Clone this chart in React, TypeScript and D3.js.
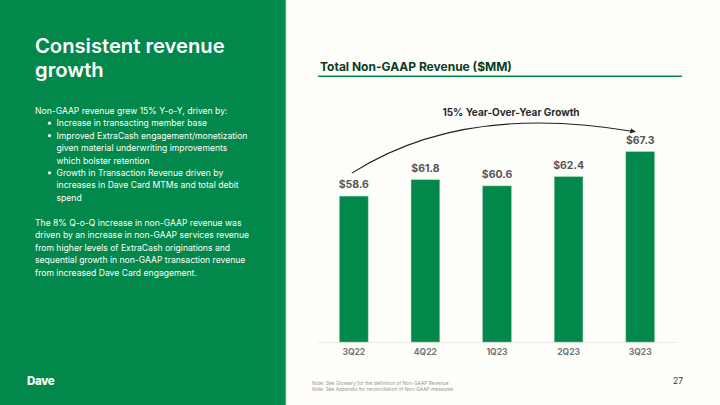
import React from "react";
import * as d3 from "d3";

const quarters = ["3Q22", "4Q22", "1Q23", "2Q23", "3Q23"];
const revenue = [58.6, 61.8, 60.6, 62.4, 67.3];
const valueLabels = ["$58.6", "$61.8", "$60.6", "$62.4", "$67.3"];

const chartTitle = "Total Non-GAAP Revenue ($MM)";
const growthLabel = "15% Year-Over-Year Growth";
const leftTitle = ["Consistent revenue", "growth"];
const introLine = "Non-GAAP revenue grew 15% Y-o-Y, driven by:";
const bullets = [
  ["Increase in transacting member base"],
  ["Improved ExtraCash engagement/monetization", "given material underwriting improvements", "which bolster retention"],
  ["Growth in Transaction Revenue driven by", "increases in Dave Card MTMs and total debit", "spend"],
];
const paragraph = [
  "The 8% Q-o-Q increase in non-GAAP revenue was",
  "driven by an increase in non-GAAP services revenue",
  "from higher levels of ExtraCash originations and",
  "sequential growth in non-GAAP transaction revenue",
  "from increased Dave Card engagement.",
];
const notes = [
  "Note: See Glossary for the definition of Non-GAAP Revenue",
  "Note: See Appendix for reconciliation of Non-GAAP measures",
];

const GREEN = "#02884A";
const BG = "#FDFEF9";
const FONT = "Inter, 'Open Sans', sans-serif";

export default function App() {
  const x = d3.scaleBand<string>().domain(quarters).range([318, 676]).paddingInner(0.6).paddingOuter(0.3);
  const y = d3.scaleLinear().domain([30, 70]).range([342, 138]);

  const bw = x.bandwidth();
  const sx = (x(quarters[0]) as number) + bw / 2 - 2;
  const sy = y(revenue[0]) - 23;
  const ex = (x(quarters[4]) as number) + bw / 2 - 5;
  const ey = y(revenue[4]) - 20;
  const arrowPath = `M${sx},${sy} C${sx + 75},${sy - 48} ${ex - 115},${ey - 20} ${ex},${ey}`;

  const bodyLines: { text: string; x: number; bullet: boolean }[] = [];
  bodyLines.push({ text: introLine, x: 35, bullet: false });
  bullets.forEach((b) => b.forEach((t, i) => bodyLines.push({ text: t, x: 56.5, bullet: i === 0 })));

  return (
    <svg width={720} height={405} style={{ position: "absolute", left: 0, top: 0, fontFamily: FONT }}>
      <rect x={0} y={0} width={720} height={405} fill={BG} />
      <rect x={0} y={0} width={285} height={405} fill={GREEN} />
      <rect x={285} y={0} width={1.2} height={405} fill="#4fb07c" />

      {leftTitle.map((t, i) => (
        <text key={t} x={35} y={53 + i * 24} fill="#fff" fontSize={20.2} fontWeight={600}>{t}</text>
      ))}
      {bodyLines.map((l, i) => (
        <g key={i}>
          {l.bullet && <circle cx={49.5} cy={111 + i * 12.4 - 0.2} r={1.6} fill="#fff" />}
          <text x={l.x} y={111 + i * 12.4} dy="0.35em" fill="#fff" fontSize={8.6}>{l.text}</text>
        </g>
      ))}
      {paragraph.map((t, i) => (
        <text key={i} x={35} y={222.7 + i * 12.45} dy="0.35em" fill="#fff" fontSize={8.6}>{t}</text>
      ))}
      <text x={27} y={385} fill="#fff" fontSize={11.5} fontWeight={800} letterSpacing={-0.3}>Dave</text>

      <text x={320} y={71} fill="#0E3B24" fontSize={12} fontWeight={700}>{chartTitle}</text>
      <line x1={318} x2={682} y1={76.3} y2={76.3} stroke={GREEN} strokeWidth={1.6} />

      <text x={511} y={112} dy="0.35em" textAnchor="middle" fill="#2b2b2b" fontSize={10} fontWeight={700}>{growthLabel}</text>

      <defs>
        <marker id="ah" viewBox="0 0 10 10" refX={9} refY={5} markerWidth={5} markerHeight={5} orient="auto">
          <path d="M0,0 L10,5 L0,10 z" fill="#222" />
        </marker>
      </defs>
      <path d={arrowPath} fill="none" stroke="#222" strokeWidth={1.1} markerEnd="url(#ah)" />

      <line x1={318} x2={676} y1={342.5} y2={342.5} stroke="#e6e6e0" strokeWidth={0.8} />
      {quarters.map((q, i) => (
        <g key={q}>
          <rect x={x(q)} y={y(revenue[i])} width={bw} height={y.range()[0] - y(revenue[i])} fill={GREEN} stroke="#7fc7a0" strokeWidth={0.5} />
          <text x={(x(q) as number) + bw / 2} y={y(revenue[i]) - 8} textAnchor="middle" fill="#555" fontSize={10.5} fontWeight={700}>{valueLabels[i]}</text>
          <text x={(x(q) as number) + bw / 2} y={352} dy="0.35em" textAnchor="middle" fill="#777" fontSize={8.5} fontWeight={700}>{q}</text>
        </g>
      ))}

      {notes.map((n, i) => (
        <text key={i} x={312} y={383 + i * 6.3} dy="0.35em" fill="#999" fontSize={4.85}>{n}</text>
      ))}
      <text x={683} y={381} dy="0.35em" textAnchor="end" fill="#333" fontSize={8.5}>27</text>
    </svg>
  );
}
